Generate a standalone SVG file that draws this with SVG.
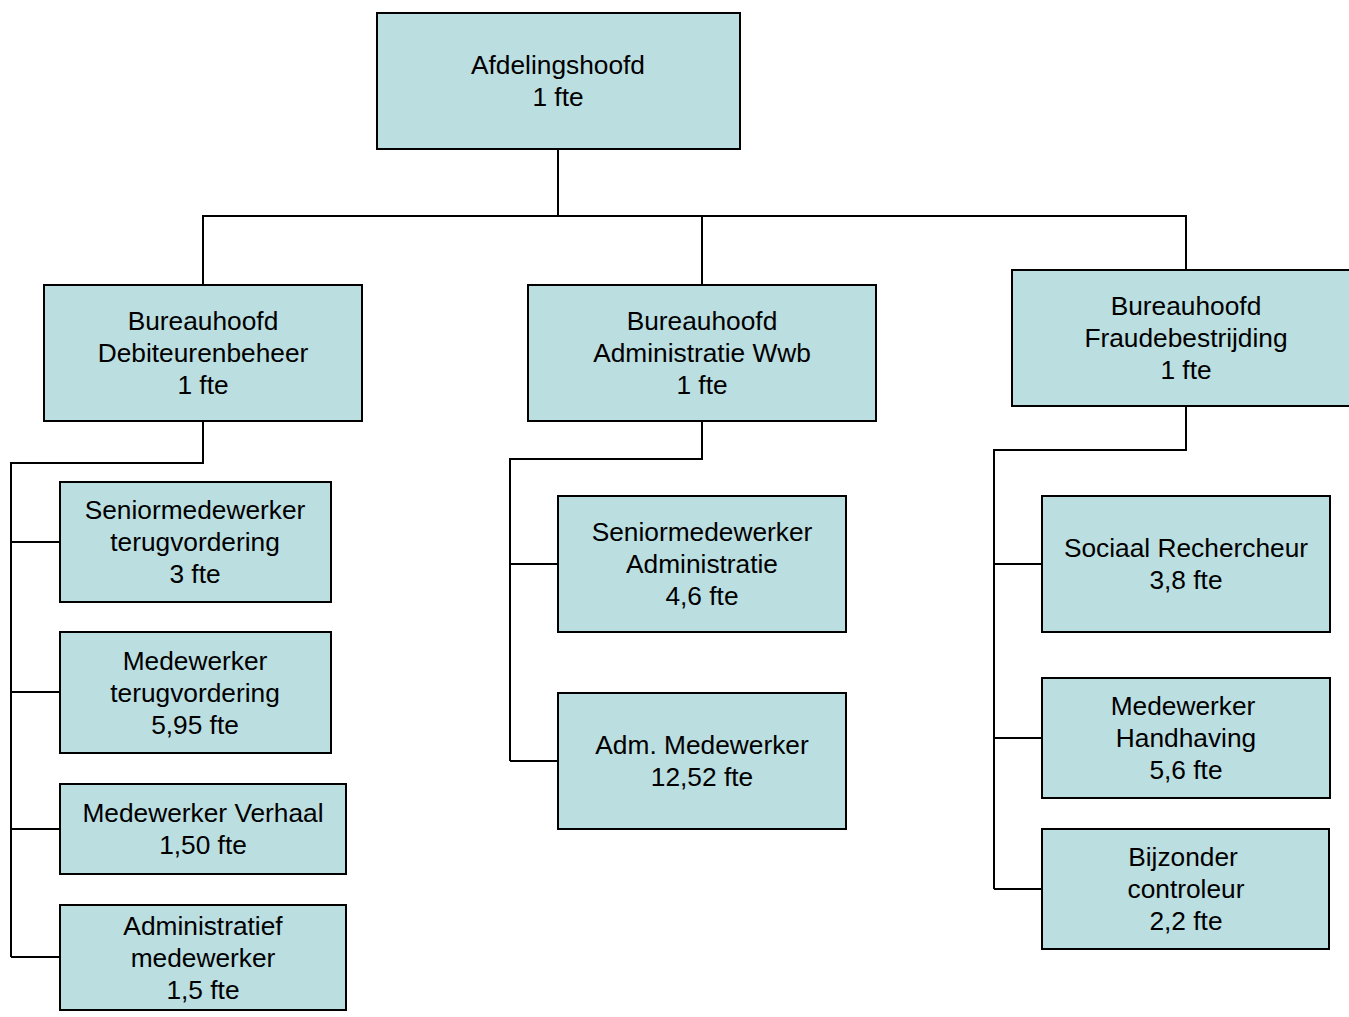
<svg xmlns="http://www.w3.org/2000/svg" width="1349" height="1017" viewBox="0 0 1349 1017">
<style>
.box{fill:#BBDEE0;stroke:#000;stroke-width:2}
.t{font-family:"Liberation Sans",Arial,sans-serif;font-size:26.3px;fill:#000;text-anchor:middle}
.c{fill:none;stroke:#000;stroke-width:2}
</style>
<rect width="1349" height="1017" fill="#fff"/>
<g id="connectors">
<path class="c" d="M558 149V216M203 285V216H1186V270M702 216V285"/>
<path class="c" d="M203 421V463H11V957M11 542H60M11 692H60M11 829H60M11 957H60"/>
<path class="c" d="M702 421V459H510V761M510 564H558M510 761H558"/>
<path class="c" d="M1186 406V450H994V889M994 564H1042M994 738H1042M994 889H1042"/>
</g>
<g id="afdelingshoofd"><rect class="box" x="377" y="13" width="363" height="136"/><text class="t" x="558" y="74">Afdelingshoofd</text><text class="t" x="558" y="106">1 fte</text></g>
<g id="bh-debiteuren"><rect class="box" x="44" y="285" width="318" height="136"/><text class="t" x="203" y="330">Bureauhoofd</text><text class="t" x="203" y="362">Debiteurenbeheer</text><text class="t" x="203" y="394">1 fte</text></g>
<g id="bh-administratie"><rect class="box" x="528" y="285" width="348" height="136"/><text class="t" x="702" y="330">Bureauhoofd</text><text class="t" x="702" y="362">Administratie Wwb</text><text class="t" x="702" y="394">1 fte</text></g>
<g id="bh-fraude"><rect class="box" x="1012" y="270" width="340" height="136"/><text class="t" x="1186" y="315">Bureauhoofd</text><text class="t" x="1186" y="347">Fraudebestrijding</text><text class="t" x="1186" y="379">1 fte</text></g>
<g id="senior-terug"><rect class="box" x="60" y="482" width="271" height="120"/><text class="t" x="195" y="519">Seniormedewerker</text><text class="t" x="195" y="551">terugvordering</text><text class="t" x="195" y="583">3 fte</text></g>
<g id="mw-terug"><rect class="box" x="60" y="632" width="271" height="121"/><text class="t" x="195" y="670">Medewerker</text><text class="t" x="195" y="702">terugvordering</text><text class="t" x="195" y="734">5,95 fte</text></g>
<g id="mw-verhaal"><rect class="box" x="60" y="784" width="286" height="90"/><text class="t" x="203" y="822">Medewerker Verhaal</text><text class="t" x="203" y="854">1,50 fte</text></g>
<g id="adm-mw"><rect class="box" x="60" y="905" width="286" height="105"/><text class="t" x="203" y="935">Administratief</text><text class="t" x="203" y="967">medewerker</text><text class="t" x="203" y="999">1,5 fte</text></g>
<g id="senior-admin"><rect class="box" x="558" y="496" width="288" height="136"/><text class="t" x="702" y="541">Seniormedewerker</text><text class="t" x="702" y="573">Administratie</text><text class="t" x="702" y="605">4,6 fte</text></g>
<g id="adm-medewerker"><rect class="box" x="558" y="693" width="288" height="136"/><text class="t" x="702" y="754">Adm. Medewerker</text><text class="t" x="702" y="786">12,52 fte</text></g>
<g id="sociaal"><rect class="box" x="1042" y="496" width="288" height="136"/><text class="t" x="1186" y="557">Sociaal Rechercheur</text><text class="t" x="1186" y="589">3,8 fte</text></g>
<g id="handhaving"><rect class="box" x="1042" y="678" width="288" height="120"/><text class="t" x="1183" y="715">Medewerker</text><text class="t" x="1186" y="747">Handhaving</text><text class="t" x="1186" y="779">5,6 fte</text></g>
<g id="bijzonder"><rect class="box" x="1042" y="829" width="287" height="120"/><text class="t" x="1183" y="866">Bijzonder</text><text class="t" x="1186" y="898">controleur</text><text class="t" x="1186" y="930">2,2 fte</text></g>
</svg>
